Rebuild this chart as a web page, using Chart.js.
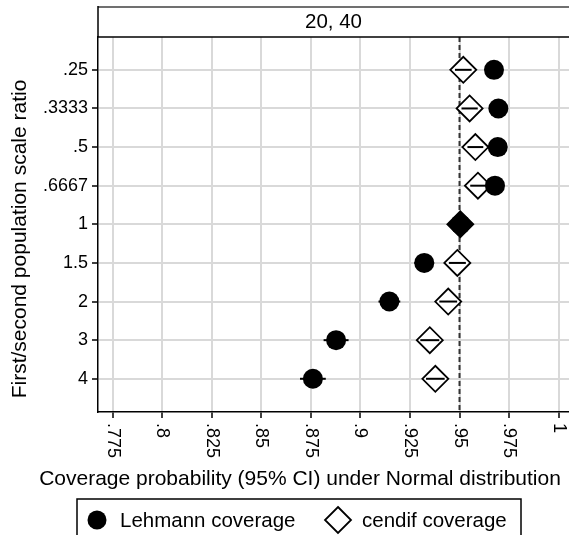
<!DOCTYPE html>
<html><head><meta charset="utf-8">
<script src="https://cdn.jsdelivr.net/npm/chart.js@4/dist/chart.umd.min.js"></script>
<style>html,body{margin:0;padding:0;background:#fff;overflow:hidden}canvas{display:block}</style>
</head><body>
<canvas id="c" width="569" height="535"></canvas>
<script>
// ---- data ----
const panelTitle = '20, 40';
const ratioLabels = ['.25', '.3333', '.5', '.6667', '1', '1.5', '2', '3', '4'];
const lehmann       = [0.9674, 0.9696, 0.9693, 0.9679, 0.9504, 0.9322, 0.9146, 0.8877, 0.8760];
const lehmannHalfCI = [0.0035, 0.0034, 0.0034, 0.0035, 0.0043, 0.0050, 0.0055, 0.0063, 0.0065];
const cendif        = [0.9519, 0.9551, 0.9580, 0.9593, 0.9504, 0.9489, 0.9443, 0.9350, 0.9378];
const cendifHalfCI  = [0.0042, 0.0041, 0.0040, 0.0039, 0.0043, 0.0043, 0.0045, 0.0048, 0.0047];
const xTickValues = [0.775, 0.8, 0.825, 0.85, 0.875, 0.9, 0.925, 0.95, 0.975, 1];
const xTickLabels = ['.775', '.8', '.825', '.85', '.875', '.9', '.925', '.95', '.975', '1'];
const nominalLevel = 0.95;
const seriesNames = ['Lehmann coverage', 'cendif coverage'];
const xTitle = 'Coverage probability (95% CI) under Normal distribution';
const yTitle = 'First/second population scale ratio';

const FONT = "'Liberation Sans', Arial, Helvetica, sans-serif";

const extras = {
  id: 'extras',
  beforeDatasetsDraw(chart) {
    const {ctx, chartArea: a, scales: {x}} = chart;
    const px = x.getPixelForValue(nominalLevel);
    ctx.save();
    ctx.strokeStyle = '#333';
    ctx.lineWidth = 2;
    ctx.setLineDash([5, 3]);
    ctx.beginPath();
    ctx.moveTo(px, a.top);
    ctx.lineTo(px, a.bottom);
    ctx.stroke();
    ctx.restore();
  },
  afterDatasetsDraw(chart) {
    const {ctx, scales: {x}} = chart;
    const series = [[lehmann, lehmannHalfCI], [cendif, cendifHalfCI]];
    ctx.save();
    ctx.strokeStyle = '#000';
    ctx.lineWidth = 2;
    series.forEach(([vals, half], d) => {
      const meta = chart.getDatasetMeta(d);
      meta.data.forEach((el, i) => {
        ctx.beginPath();
        ctx.moveTo(x.getPixelForValue(vals[i] - half[i]), el.y);
        ctx.lineTo(x.getPixelForValue(vals[i] + half[i]), el.y);
        ctx.stroke();
      });
    });
    ctx.restore();
  },
  afterDraw(chart) {
    const {ctx, chartArea: a, scales: {x}} = chart;
    ctx.save();
    // strip header
    ctx.strokeStyle = '#707070';
    ctx.lineWidth = 2;
    ctx.beginPath(); ctx.moveTo(a.left, 7); ctx.lineTo(a.right, 7); ctx.stroke();
    ctx.strokeStyle = '#000';
    ctx.lineWidth = 1.5;
    ctx.beginPath(); ctx.moveTo(a.left, 6); ctx.lineTo(a.left, a.top); ctx.stroke();
    ctx.beginPath(); ctx.moveTo(a.left, a.top); ctx.lineTo(a.right, a.top); ctx.stroke();
    ctx.fillStyle = '#000';
    ctx.font = '20.5px ' + FONT;
    ctx.textAlign = 'center';
    ctx.textBaseline = 'middle';
    ctx.fillText(panelTitle, (a.left + a.right) / 2, 22.5);

    // x tick labels, rotated clockwise
    ctx.font = '18px ' + FONT;
    ctx.textAlign = 'left';
    ctx.textBaseline = 'middle';
    xTickValues.forEach((v, i) => {
      ctx.save();
      ctx.translate(x.getPixelForValue(v), a.bottom + 11);
      ctx.rotate(Math.PI / 2);
      ctx.fillText(xTickLabels[i], 0, 0);
      ctx.restore();
    });

    // axis titles
    ctx.font = '21px ' + FONT;
    ctx.textAlign = 'center';
    ctx.textBaseline = 'middle';
    ctx.fillText(xTitle, 300, 479);
    ctx.save();
    ctx.translate(20, 239);
    ctx.rotate(-Math.PI / 2);
    ctx.fillText(yTitle, 0, 0);
    ctx.restore();

    // legend
    ctx.font = '20.5px ' + FONT;
    ctx.strokeStyle = '#000';
    ctx.lineWidth = 1.5;
    ctx.strokeRect(77, 499, 444, 60);
    ctx.beginPath();
    ctx.arc(97, 520, 9.5, 0, Math.PI * 2);
    ctx.fill();
    ctx.textAlign = 'left';
    ctx.fillText(seriesNames[0], 120, 521);
    ctx.lineWidth = 1.8;
    ctx.beginPath();
    ctx.moveTo(338, 507); ctx.lineTo(351, 520); ctx.lineTo(338, 533); ctx.lineTo(325, 520); ctx.closePath();
    ctx.stroke();
    ctx.fillText(seriesNames[1], 362, 521);
    ctx.restore();
  }
};

const gridStyle = {color: '#d9d9d9', lineWidth: 2, tickColor: '#000', tickLength: 6, tickWidth: 1.5};
const borderStyle = {color: '#000', width: 1.5};

new Chart(document.getElementById('c'), {
  type: 'scatter',
  data: {
    datasets: [
      {
        label: seriesNames[0],
        data: lehmann.map((v, i) => ({x: v, y: i})),
        pointStyle: 'circle',
        pointRadius: 10,
        pointHoverRadius: 10,
        pointBackgroundColor: '#000',
        pointBorderColor: '#000',
        pointBorderWidth: 0
      },
      {
        label: seriesNames[1],
        data: cendif.map((v, i) => ({x: v, y: i})),
        pointStyle: 'rectRot',
        pointRadius: 13,
        pointHoverRadius: 13,
        pointBackgroundColor: (c) => (c.dataIndex !== undefined && Math.abs(cendif[c.dataIndex] - lehmann[c.dataIndex]) < 0.001) ? '#000' : '#fff',
        pointBorderColor: '#000',
        pointBorderWidth: 1.8
      }
    ]
  },
  options: {
    responsive: false,
    animation: false,
    devicePixelRatio: 1,
    events: [],
    layout: {autoPadding: false, padding: {top: 37, left: 0, right: 0, bottom: 0}},
    plugins: {legend: {display: false}, tooltip: {enabled: false}},
    scales: {
      x: {
        type: 'linear',
        min: 0.76753,
        max: 1.00526,
        afterBuildTicks: (s) => { s.ticks = xTickValues.map(v => ({value: v})); },
        afterFit: (s) => { s.height = 123; },
        ticks: {display: false},
        grid: gridStyle,
        border: borderStyle
      },
      y: {
        type: 'linear',
        reverse: true,
        min: -0.85,
        max: 8.86,
        afterBuildTicks: (s) => { s.ticks = ratioLabels.map((_, i) => ({value: i})); },
        afterFit: (s) => { s.width = 98; },
        ticks: {
          callback: (v) => ratioLabels[v],
          font: {family: FONT, size: 18},
          color: '#000',
          padding: 4
        },
        grid: gridStyle,
        border: borderStyle
      }
    }
  },
  plugins: [extras]
});
</script>
</body></html>
